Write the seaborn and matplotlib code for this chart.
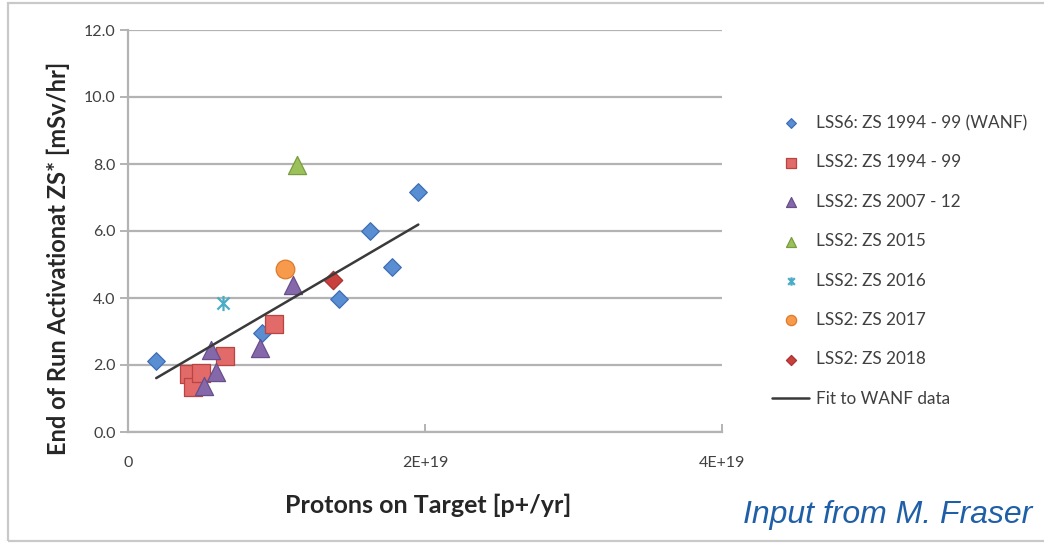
import numpy as np
import matplotlib
matplotlib.use("Agg")
import matplotlib.pyplot as plt
from matplotlib.path import Path
from matplotlib.patches import Rectangle
import seaborn as sns

# Protons on target (units of 1E+19 p+/yr) and end-of-run dose rates (mSv/hr)
wanf_x = [0.19, 0.90, 1.42, 1.63, 1.78, 1.955]
wanf_y = [2.12, 2.95, 3.97, 6.01, 4.92, 7.17]

lss2_9499_x = [0.41, 0.44, 0.49, 0.65, 0.98]
lss2_9499_y = [1.72, 1.35, 1.75, 2.28, 3.22]

lss2_0712_x = [0.51, 0.56, 0.59, 0.89, 1.11]
lss2_0712_y = [1.37, 2.45, 1.80, 2.50, 4.39]

lss2_2015_x = [1.14]
lss2_2015_y = [7.97]

lss2_2016_x = [0.64]
lss2_2016_y = [3.84]

lss2_2017_x = [1.06]
lss2_2017_y = [4.86]

lss2_2018_x = [1.38]
lss2_2018_y = [4.54]

series_labels = [
    "LSS6: ZS 1994 - 99 (WANF)",
    "LSS2: ZS 1994 - 99",
    "LSS2: ZS 2007 - 12",
    "LSS2: ZS 2015",
    "LSS2: ZS 2016",
    "LSS2: ZS 2017",
    "LSS2: ZS 2018",
]
fit_label = "Fit to WANF data"

y_ticks = [0, 2, 4, 6, 8, 10, 12]
x_ticks = [0, 2, 4]
x_tick_labels = ["0", "2E+19", "4E+19"]

SCALE = 1e19

sns.set_theme(style="white")
plt.rcParams["font.family"] = ["Lato", "DejaVu Sans"]

fig = plt.figure(figsize=(10.44, 5.46), dpi=100)
fig.patch.set_facecolor("white")

# outer frame of the slide panel
fig.patches.append(Rectangle((8 / 1044, 5 / 546), 1.2, 1 - 8 / 546,
                             transform=fig.transFigure, fill=False,
                             edgecolor="#c9c9c9", linewidth=1.6, zorder=0))

ax = fig.add_axes([128 / 1044, 1 - 432 / 546, 594 / 1044, 402 / 546])

# asterisk-like star marker
star = Path(
    [(0, -1), (0, 1), (-0.8, -0.8), (0.8, 0.8), (-0.8, 0.8), (0.8, -0.8)],
    [Path.MOVETO, Path.LINETO, Path.MOVETO, Path.LINETO, Path.MOVETO, Path.LINETO],
)

def xs(vals):
    return np.asarray(vals) * SCALE

sns.scatterplot(x=xs(wanf_x), y=wanf_y, marker="D", s=80, color="#5a8ed2",
                edgecolor="#3e6eb4", linewidth=0.9, ax=ax, label=series_labels[0], zorder=3)
sns.scatterplot(x=xs(lss2_9499_x), y=lss2_9499_y, marker="s", s=165, color="#e26a68",
                edgecolor="#b94542", linewidth=0.9, ax=ax, label=series_labels[1], zorder=3)
sns.scatterplot(x=xs(lss2_0712_x), y=lss2_0712_y, marker="^", s=170, color="#8468aa",
                edgecolor="#684f8c", linewidth=0.9, ax=ax, label=series_labels[2], zorder=3)
sns.scatterplot(x=xs(lss2_2015_x), y=lss2_2015_y, marker="^", s=170, color="#9bc25a",
                edgecolor="#7a9c40", linewidth=0.9, ax=ax, label=series_labels[3], zorder=3)
sns.scatterplot(x=xs(lss2_2016_x), y=lss2_2016_y, marker=star, s=120, color="#4bacc6",
                edgecolor="#4bacc6", linewidth=1.6, ax=ax, label=series_labels[4], zorder=3)
sns.scatterplot(x=xs(lss2_2017_x), y=lss2_2017_y, marker="o", s=180, color="#f79a4c",
                edgecolor="#dd7a2a", linewidth=0.9, ax=ax, label=series_labels[5], zorder=3)
sns.scatterplot(x=xs(lss2_2018_x), y=lss2_2018_y, marker="D", s=88, color="#c9403d",
                edgecolor="#a83330", linewidth=0.9, ax=ax, label=series_labels[6], zorder=3)

# least-squares fit to the WANF points, drawn over their range
slope, intercept = np.polyfit(wanf_x, wanf_y, 1)
fit_x = np.array([min(wanf_x), max(wanf_x)])
sns.lineplot(x=fit_x * SCALE, y=slope * fit_x + intercept, color="#3a3a3a",
             linewidth=1.8, ax=ax, label=fit_label, zorder=4)

ax.set_xlim(0, 4 * SCALE)
ax.set_ylim(0, 12)
ax.set_yticks(y_ticks)
ax.set_yticklabels([f"{v:.1f}" for v in y_ticks])
ax.set_xticks([t * SCALE for t in x_ticks])
ax.set_xticklabels(x_tick_labels)

grid_c = "#b3b3b3"
ax.yaxis.grid(True, color=grid_c, linewidth=1.6)
ax.xaxis.grid(False)
for side in ["top", "right"]:
    ax.spines[side].set_visible(False)
for side in ["left", "bottom"]:
    ax.spines[side].set_color(grid_c)
    ax.spines[side].set_linewidth(1.6)
ax.set_axisbelow(True)

ax.tick_params(axis="y", which="major", left=True, direction="out", length=6,
               width=1.4, color=grid_c, pad=3, labelsize=11.5, labelcolor="#404040")
ax.tick_params(axis="x", which="major", bottom=True, direction="in", length=6,
               width=1.4, color=grid_c, pad=17, labelsize=11.5, labelcolor="#404040")

ax.set_xlabel("Protons on Target [p+/yr]", fontsize=18, fontweight="bold", color="#262626")
ax.set_ylabel("End of Run Activationat ZS* [mSv/hr]", fontsize=17, fontweight="bold",
              color="#262626")
ax.xaxis.set_label_coords(0.505, -0.182)
ax.yaxis.set_label_coords(-0.118, 0.433)
ax.xaxis.label.set_va("center")
ax.yaxis.label.set_va("center")

handles, labels = ax.get_legend_handles_labels()
ax.legend(handles, labels, loc="upper left", bbox_to_anchor=(765 / 1044, 1 - 108 / 546),
          bbox_transform=fig.transFigure, frameon=False, fontsize=12.3,
          labelcolor="#404040", markerscale=0.55, labelspacing=1.37,
          handlelength=2.2, handletextpad=0.4, borderaxespad=0)

fig.text(1032 / 1044, 1 - 515 / 546, "Input from M. Fraser", ha="right", va="center",
         fontsize=23, style="italic", color="#1f5fa8",
         family=["Liberation Sans", "DejaVu Sans"])

fig.savefig("out.png", dpi=100, facecolor="white")
